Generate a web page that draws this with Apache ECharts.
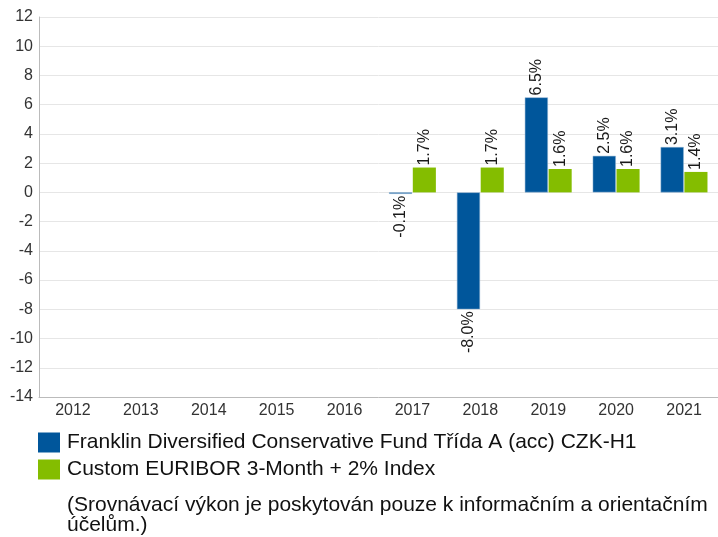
<!DOCTYPE html>
<html>
<head>
	<meta charset="utf-8">
	<title>ECharts</title>
	<script src="https://cdn.jsdelivr.net/npm/echarts@6/dist/echarts.min.js"></script>
	<style>
		body { margin: 0; background: #fff; }
	</style>
</head>
<body>
	<div id="chart" style="width: 718px;height:537px;"></div>
	<script type="text/javascript">
		var years = ['2012', '2013', '2014', '2015', '2016', '2017', '2018', '2019', '2020', '2021'];
		var fundValues = [null, null, null, null, null, -0.1, -8.0, 6.5, 2.5, 3.1];
		var indexValues = [null, null, null, null, null, 1.7, 1.7, 1.6, 1.6, 1.4];
		var fundName = 'Franklin Diversified Conservative Fund Třída A (acc) CZK-H1';
		var indexName = 'Custom EURIBOR 3-Month + 2% Index';
		var note = '(Srovnávací výkon je poskytován pouze k informačním a orientačním\núčelům.)';

		var fontFamily = 'Liberation Sans, Arial, sans-serif';

		// kladné hodnoty nad sloupcem, záporné pod ním
		function withLabels(arr) {
			return arr.map(function (v) {
				if (v === null) return null;
				if (v < 0) {
					return { value: v, label: { position: 'bottom', align: 'right' } };
				}
				return { value: v };
			});
		}

		var barLabel = {
			show: true,
			position: 'top',
			rotate: 90,
			align: 'left',
			verticalAlign: 'middle',
			distance: 2,
			fontSize: 16,
			color: '#1a1a1a',
			fontFamily: fontFamily,
			formatter: function (p) { return p.value.toFixed(1) + '%'; }
		};

		var myChart = echarts.init(document.getElementById('chart'));
		var option = {
			animation: false,
			textStyle: { fontFamily: fontFamily },
			grid: { left: 39, right: -2, top: 17, bottom: 140 },
			legend: {
				orient: 'vertical',
				left: 38,
				top: 432,
				padding: 0,
				itemWidth: 22,
				itemHeight: 20,
				itemGap: 6,
				itemStyle: { borderWidth: 0 },
				textStyle: { fontSize: 21, color: '#111', fontFamily: fontFamily, padding: [0, 0, 0, 2] },
				data: [
					{ name: fundName, icon: 'rect' },
					{ name: indexName, icon: 'rect' }
				]
			},
			graphic: [{
				type: 'text',
				left: 67,
				top: 495,
				style: {
					text: note,
					font: '21px Liberation Sans, Arial, sans-serif',
					fill: '#111',
					lineHeight: 20
				}
			}],
			xAxis: {
				type: 'category',
				data: years,
				axisLine: { onZero: false, lineStyle: { color: '#bbb' } },
				axisTick: { show: false },
				axisLabel: { fontSize: 16, color: '#333', margin: 6 }
			},
			yAxis: {
				type: 'value',
				min: -14,
				max: 12,
				interval: 2,
				axisLine: { show: true, lineStyle: { color: '#bbb' } },
				axisTick: { show: false },
				axisLabel: { fontSize: 16, color: '#333', margin: 6 },
				splitLine: { lineStyle: { color: '#e6e6e6' } }
			},
			series: [
				{
					name: fundName,
					type: 'bar',
					data: withLabels(fundValues),
					barWidth: '34%',
					barGap: '3%',
					itemStyle: { color: '#00569b', borderColor: '#8fb3d3', borderWidth: 0.5 },
					label: barLabel
				},
				{
					name: indexName,
					type: 'bar',
					data: withLabels(indexValues),
					barWidth: '34%',
					itemStyle: { color: '#84bd00' },
					label: barLabel
				}
			]
		};
		myChart.setOption(option);
	</script>
</body>
</html>
